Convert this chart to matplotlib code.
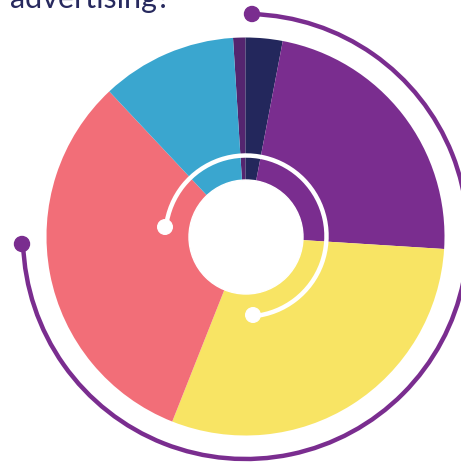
import matplotlib
matplotlib.use("Agg")
import matplotlib.pyplot as plt
from matplotlib.patches import Arc, Circle

# Data (percent shares, clockwise from top)
labels = ["Segment A", "Segment B", "Segment C", "Segment D", "Segment E", "Segment F"]
values = [1, 3, 23, 30, 32, 11]
colors = ["#54256f", "#23275c", "#7a2d8f", "#f8e464", "#f26e78", "#3aa6cf"]
title_text = "advertising?"

W, H = 461, 462
fig = plt.figure(figsize=(W / 100, H / 100), dpi=100)
ax = fig.add_axes([0, 0, 1, 1])
ax.set_xlim(0, W)
ax.set_ylim(0, H)
ax.set_aspect("equal")
ax.axis("off")

cx, cy = 245.5, H - 236.5
R = 199

start = 90 + values[0] / sum(values) * 360 * 1.0
ax.pie(values, colors=colors, radius=R, center=(cx, cy), startangle=90 + 3.6,
       counterclock=False, wedgeprops=dict(linewidth=0), frame=True)
ax.set_xlim(0, W)
ax.set_ylim(0, H)
ax.axis("off")

# inner white hole
ax.add_patch(Circle((cx + 0.5, cy - 0.5), 57, color="white", zorder=5))

# outer purple arc with dot
purple = "#7a2d8f"
Ro = 222.5
ax.add_patch(Arc((cx, cy), 2 * Ro, 2 * Ro, theta1=-178.1, theta2=88.3,
                 color=purple, lw=3.2, zorder=6))
ax.add_patch(Circle((252, H - 14), 7.5, color=purple, zorder=7))
ax.add_patch(Circle((22, H - 244), 7.5, color=purple, zorder=7))

# inner white arc with dots
Ri = 80.5
ax.add_patch(Arc((cx + 0.5, cy + 0.5), 2 * Ri, 2 * Ri, theta1=-84.5, theta2=173.3,
                 color="white", lw=3.2, zorder=6))
ax.add_patch(Circle((165, H - 227), 7.3, color="white", zorder=7))
ax.add_patch(Circle((253, H - 315), 7.3, color="white", zorder=7))

# clipped title
ax.text(10, H - 8, title_text, fontsize=22, color="#27295e", family="Lato",
        ha="left", va="baseline", zorder=8)

fig.savefig("out.png", dpi=100)
